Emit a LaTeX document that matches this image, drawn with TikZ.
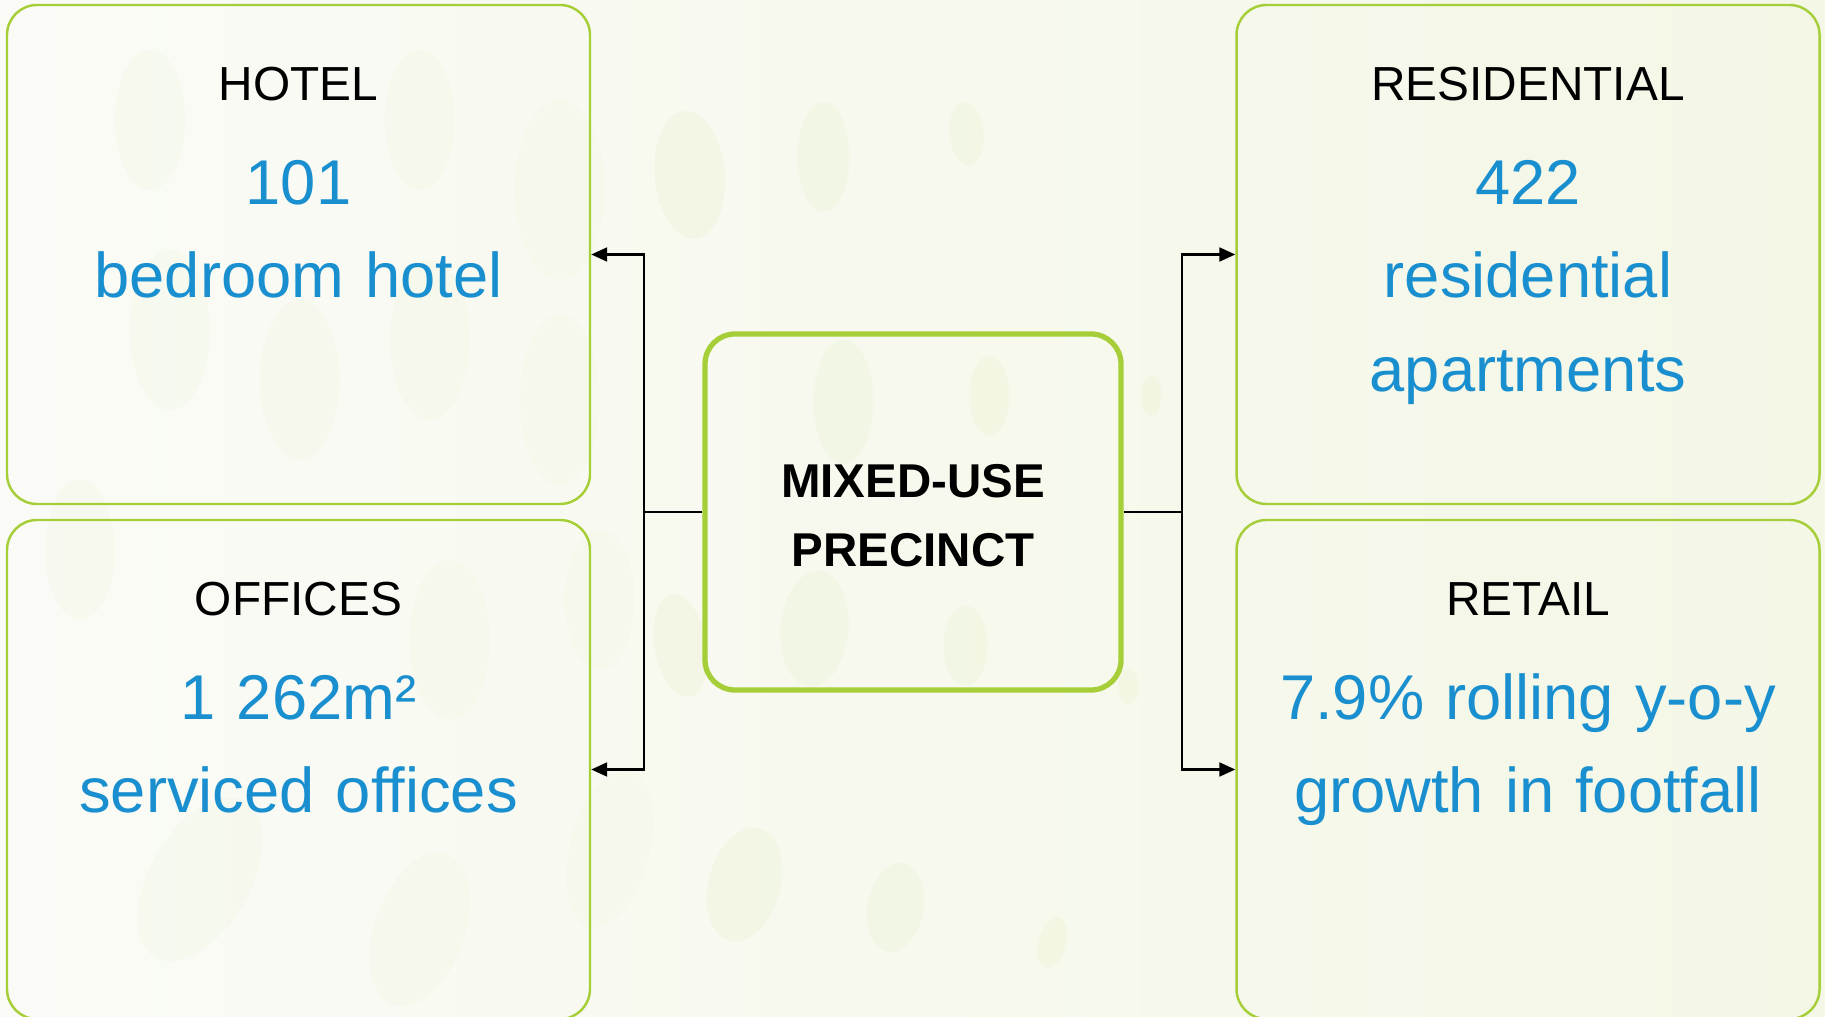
\documentclass[tikz,border=0pt]{standalone}
\usepackage{fontspec}
\setmainfont{Liberation Sans}
\usepackage{tikz}
\usetikzlibrary{arrows.meta, positioning}

\definecolor{leafgreen}{HTML}{A6CE39}
\definecolor{figblue}{HTML}{1A8FCF}
\definecolor{paperleft}{HTML}{FAFBF6}
\definecolor{paperright}{HTML}{F4F7E6}
\definecolor{blobgreen}{HTML}{EEF3D8}

\tikzset{
  usebox/.style={draw=leafgreen, line width=0.7pt, rounded corners=0.3cm,
    minimum width=5.83cm, minimum height=4.99cm, inner sep=0pt},
  hubbox/.style={draw=leafgreen, line width=1.5pt, rounded corners=0.3cm,
    minimum width=4.16cm, minimum height=3.56cm},
  hubtext/.style={align=center, inner sep=0pt,
    font=\fontsize{13.5}{19.6}\selectfont\bfseries},
  usetitle/.style={anchor=base, inner sep=0pt, font=\fontsize{13.6}{16}\selectfont},
  usefigure/.style={anchor=base, inner sep=0pt, text=figblue, text width=5.6cm,
    align=center, font=\fontsize{18}{26.5}\selectfont},
  link/.style={line width=0.6pt, -{Triangle[length=1.6mm, width=1.4mm]}},
}

\begin{document}
\begin{tikzpicture}
  % paper with faint leaf marks
  \shade[left color=paperleft, right color=paperright] (0,0) rectangle (18.25,-10.17);
  \begin{scope}[x=0.01cm, y=-0.01cm]
    % the clearer marks between the boxes
    \foreach \px/\py/\rx/\ry/\tilt in {
      690/175/35/64/5, 824/157/26/55/0, 967/134/17/32/5,
      844/402/30/62/0, 990/396/20/40/0, 1152/396/10/20/0,
      815/629/34/58/-5, 966/646/22/40/0, 681/646/26/52/10, 1129/687/10/18/0,
      745/885/36/58/-15, 896/908/28/45/-10, 1053/943/14/26/-15}
      \fill[blobgreen, opacity=0.45, rotate around={\tilt:(\px,\py)}]
        (\px,\py) ellipse [x radius=\rx, y radius=\ry];
    % very faint ones on the left
    \foreach \px/\py/\rx/\ry/\tilt in {
      560/190/45/90/0, 560/400/40/85/0, 600/600/35/70/0, 610/850/40/80/-15,
      150/120/35/70/0, 420/120/35/70/0, 430/340/40/80/0, 170/330/40/80/0,
      300/380/40/80/0, 200/880/50/90/-30, 420/930/45/80/-20, 80/550/35/70/0,
      450/640/40/80/0}
      \fill[blobgreen, opacity=0.2, rotate around={\tilt:(\px,\py)}]
        (\px,\py) ellipse [x radius=\rx, y radius=\ry];
  \end{scope}
  \useasboundingbox (0,0) rectangle (18.25,-10.17);

  % hub and the four uses
  \node[hubbox] (mix) at (9.13,-5.12) {};
  \node[hubtext] (mix-t) at ([yshift=-0.04cm]mix.center) {MIXED-USE\\PRECINCT};
  \node[usebox] (hotel) at (2.985,-2.545) {};
  \node[usebox] (offices) at (2.985,-7.695) {};
  \node[usebox] (resid) at (15.28,-2.545) {};
  \node[usebox] (retail) at (15.28,-7.695) {};

  \node[usetitle] (hotel-t) at ([yshift=-0.97cm]hotel.north) {HOTEL};
  \node[usefigure] (hotel-f) at ([yshift=-2.01cm]hotel.north) {101\\bedroom hotel};
  \node[usetitle] (offices-t) at ([yshift=-0.97cm]offices.north) {OFFICES};
  \node[usefigure] (offices-f) at ([yshift=-2.01cm]offices.north) {1 262m²\\serviced offices};
  \node[usetitle] (resid-t) at ([yshift=-0.97cm]resid.north) {RESIDENTIAL};
  \node[usefigure] (resid-f) at ([yshift=-2.01cm]resid.north) {422\\residential\\apartments};
  \node[usetitle] (retail-t) at ([yshift=-0.97cm]retail.north) {RETAIL};
  \node[usefigure, text width=5.8cm] (retail-f) at ([yshift=-2.01cm]retail.north) {7.9\% rolling y-o-y\\growth in footfall};

  % links
  \draw[link] (mix.west) -- ++(-0.58,0) |- (hotel.east);
  \draw[link] (mix.west) -- ++(-0.58,0) |- (offices.east);
  \draw[link] (mix.east) -- ++(0.58,0) |- (resid.west);
  \draw[link] (mix.east) -- ++(0.58,0) |- (retail.west);
\end{tikzpicture}
\end{document}
